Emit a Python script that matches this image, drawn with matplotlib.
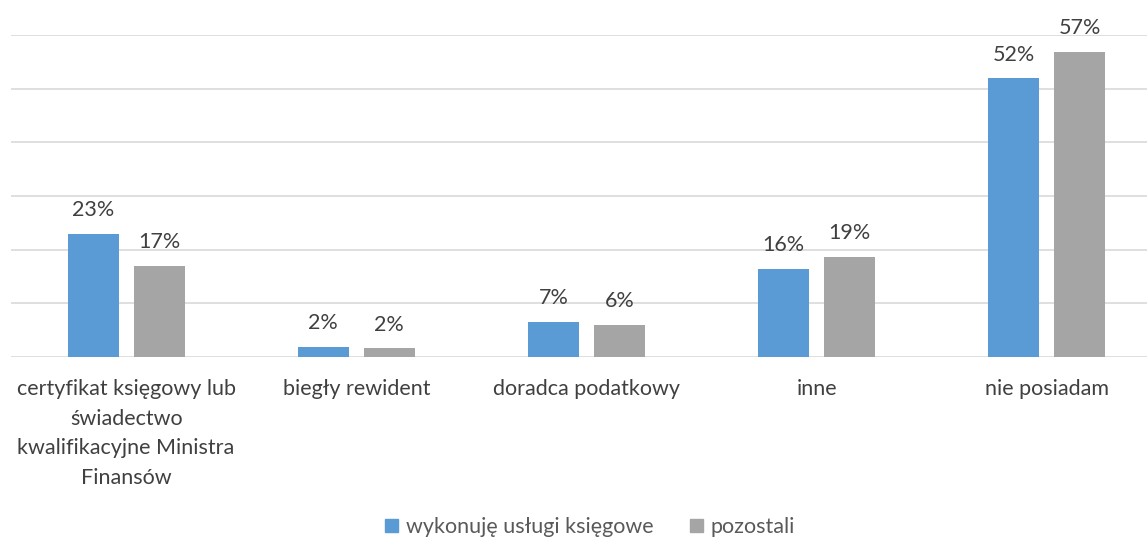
import numpy as np
import matplotlib
matplotlib.use("Agg")
import matplotlib.pyplot as plt
from matplotlib.patches import Patch

plt.rcParams['font.family'] = ['Lato', 'DejaVu Sans']

# Dane
kategorie = ['certyfikat księgowy lub\nświadectwo\nkwalifikacyjne Ministra\nFinansów',
             'biegły rewident', 'doradca podatkowy', 'inne', 'nie posiadam']
ksiegowe = [22.9, 1.9, 6.6, 16.4, 51.9]
pozostali = [16.9, 1.6, 6.0, 18.6, 56.9]
serie = ['wykonuję usługi księgowe', 'pozostali']
kolory = ['#5B9BD5', '#A5A5A5']

fig = plt.figure(figsize=(11.47, 5.4), dpi=100)
ax = fig.add_axes([11 / 1147, 1 - 357 / 540, 1151 / 1147, 322 / 540])

x = np.arange(len(kategorie))
szer = 0.2215
off = 0.1433
txt = '#404040'
fs = 15.5

for i, (vals, kol) in enumerate(zip([ksiegowe, pozostali], kolory)):
    pos = x - off if i == 0 else x + off
    bars = ax.bar(pos, vals, width=szer, color=kol, zorder=3)
    for b, v in zip(bars, vals):
        ax.annotate(f'{v:.0f}%', (b.get_x() + b.get_width() / 2, v),
                    xytext=(0, 10), textcoords='offset points',
                    ha='center', va='bottom', fontsize=fs, color=txt)

ax.set_xlim(-0.5, len(kategorie) - 0.5)
ax.set_ylim(0, 60)
ax.set_yticks(np.arange(0, 61, 10))
ax.yaxis.grid(True, color='#D9D9D9', linewidth=1.2, zorder=0)
ax.tick_params(axis='y', left=False, labelleft=False)
ax.tick_params(axis='x', length=0, pad=16, labelsize=fs, labelcolor=txt)
ax.set_xticks(x)
ax.set_xticklabels(kategorie, linespacing=1.6)
for s in ax.spines.values():
    s.set_visible(False)

uchwyty = [Patch(color=k, label=s) for k, s in zip(kolory, serie)]
fig.legend(handles=uchwyty, loc='center', bbox_to_anchor=(590 / 1147, 1 - 527 / 540),
           ncol=2, frameon=False, fontsize=fs, handlelength=0.6, handleheight=0.6,
           handletextpad=0.35, columnspacing=1.7, labelcolor='#595959')

fig.savefig('out.png', dpi=100)
